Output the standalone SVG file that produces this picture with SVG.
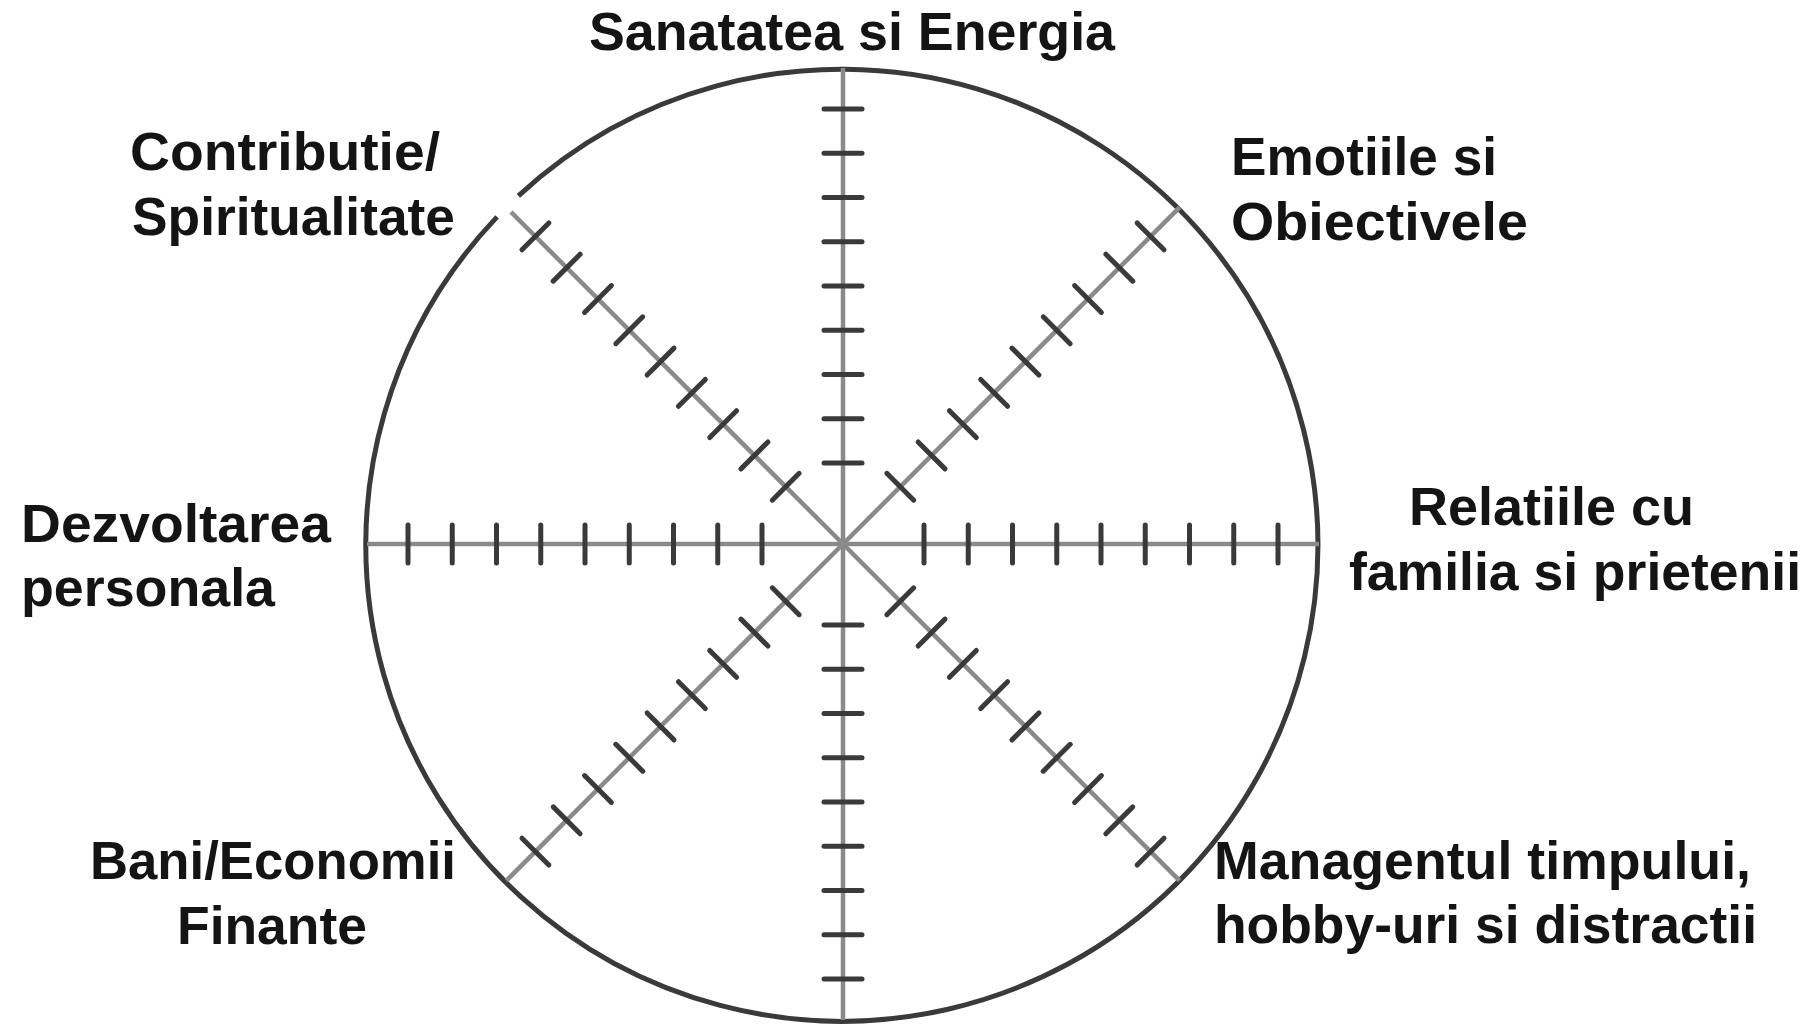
<svg xmlns="http://www.w3.org/2000/svg" xmlns:xlink="http://www.w3.org/1999/xlink" width="1811" height="1028" viewBox="0 0 1811 1028">
<style>
.axis{stroke:#8a8a8a;stroke-width:4.5;fill:none;stroke-linecap:butt}
.tick{stroke:#3a3a3a;stroke-width:5;stroke-linecap:round}
.rim{stroke:#3a3a3a;stroke-width:5;fill:none}
.lbl{font-family:"Liberation Sans",Arial,sans-serif;font-weight:bold;font-size:54px;fill:#141414}
</style>
<defs>
<g id="ticks">
<line class="tick" x1="81" y1="-19" x2="81" y2="19"/>
<line class="tick" x1="125.25" y1="-19" x2="125.25" y2="19"/>
<line class="tick" x1="169.5" y1="-19" x2="169.5" y2="19"/>
<line class="tick" x1="213.75" y1="-19" x2="213.75" y2="19"/>
<line class="tick" x1="258" y1="-19" x2="258" y2="19"/>
<line class="tick" x1="302.25" y1="-19" x2="302.25" y2="19"/>
<line class="tick" x1="346.5" y1="-19" x2="346.5" y2="19"/>
<line class="tick" x1="390.75" y1="-19" x2="390.75" y2="19"/>
<line class="tick" x1="435" y1="-19" x2="435" y2="19"/>
</g>
</defs>
<rect width="1811" height="1028" fill="#ffffff"/>
<g id="wheel">
<path class="rim" d="M 518.4 195.9 A 476 476 0 1 1 497.1 216.9"/>
<g id="connectors">
<line class="axis" x1="843" y1="544" x2="1319" y2="544"/>
<line class="axis" x1="843" y1="544" x2="367" y2="544"/>
<line class="axis" x1="843" y1="544" x2="843" y2="68"/>
<line class="axis" x1="843" y1="544" x2="843" y2="1020"/>
<line class="axis" x1="843" y1="544" x2="1179.6" y2="207.4"/>
<line class="axis" x1="843" y1="544" x2="511" y2="212"/>
<line class="axis" x1="843" y1="544" x2="506.4" y2="880.6"/>
<line class="axis" x1="843" y1="544" x2="1179.6" y2="880.6"/>
</g>
<g id="tick-marks">
<use xlink:href="#ticks" transform="translate(843,544)"/>
<use xlink:href="#ticks" transform="translate(843,544) rotate(-45)"/>
<use xlink:href="#ticks" transform="translate(843,544) rotate(-90)"/>
<use xlink:href="#ticks" transform="translate(843,544) rotate(-135)"/>
<use xlink:href="#ticks" transform="translate(843,544) rotate(180)"/>
<use xlink:href="#ticks" transform="translate(843,544) rotate(135)"/>
<use xlink:href="#ticks" transform="translate(843,544) rotate(90)"/>
<use xlink:href="#ticks" transform="translate(843,544) rotate(45)"/>
</g>
</g>
<g id="label-sanatate"><text class="lbl" x="589" y="50" textLength="526" lengthAdjust="spacingAndGlyphs">Sanatatea si Energia</text></g>
<g id="label-contributie"><text class="lbl" x="130" y="170" textLength="310" lengthAdjust="spacingAndGlyphs">Contributie/</text><text class="lbl" x="132" y="235" textLength="323" lengthAdjust="spacingAndGlyphs">Spiritualitate</text></g>
<g id="label-emotii"><text class="lbl" x="1231" y="175" textLength="266" lengthAdjust="spacingAndGlyphs">Emotiile si</text><text class="lbl" x="1231" y="240" textLength="297" lengthAdjust="spacingAndGlyphs">Obiectivele</text></g>
<g id="label-dezvoltare"><text class="lbl" x="21" y="542" textLength="310" lengthAdjust="spacingAndGlyphs">Dezvoltarea</text><text class="lbl" x="21" y="606" textLength="254" lengthAdjust="spacingAndGlyphs">personala</text></g>
<g id="label-relatii"><text class="lbl" x="1409" y="525" textLength="285" lengthAdjust="spacingAndGlyphs">Relatiile cu</text><text class="lbl" x="1349" y="590" textLength="452" lengthAdjust="spacingAndGlyphs">familia si prietenii</text></g>
<g id="label-bani"><text class="lbl" x="90" y="879" textLength="366" lengthAdjust="spacingAndGlyphs">Bani/Economii</text><text class="lbl" x="177" y="944" textLength="190" lengthAdjust="spacingAndGlyphs">Finante</text></g>
<g id="label-timp"><text class="lbl" x="1214" y="879" textLength="537" lengthAdjust="spacingAndGlyphs">Managentul timpului,</text><text class="lbl" x="1214" y="943" textLength="543" lengthAdjust="spacingAndGlyphs">hobby-uri si distractii</text></g>
</svg>
